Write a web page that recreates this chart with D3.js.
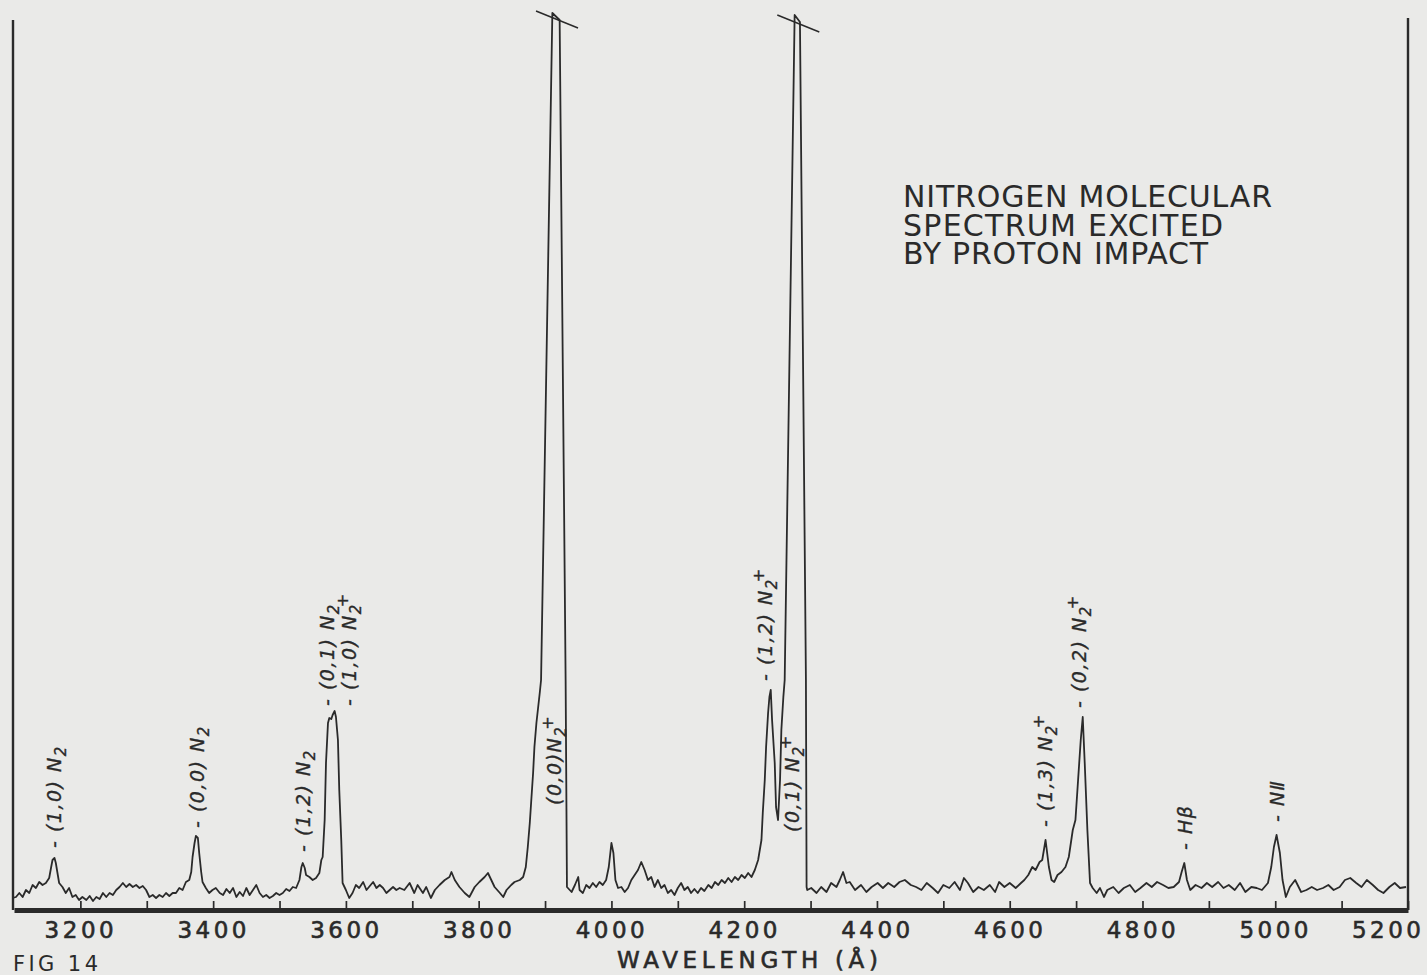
<!DOCTYPE html>
<html>
<head>
<meta charset="utf-8">
<script src="https://cdn.jsdelivr.net/npm/d3@7"></script>
<style>
  html, body { margin: 0; padding: 0; background: #eaeae8; }
  svg { display: block; }
</style>
</head>
<body>
<svg id="chart" width="1427" height="975"></svg>
<script>
// Emission spectrum: [wavelength (Å), relative intensity]
const spectrum = [
  [3098,12],[3103,13],[3108,17],[3113,13],[3118,20],[3123,17],[3128,25],[3133,22],[3138,28],[3143,25],
  [3148,27],[3153,32],[3156,43],[3158,50],[3161,52],[3163,47],[3166,35],[3168,27],[3173,23],[3178,17],
  [3183,22],[3188,13],[3193,15],[3198,10],[3203,13],[3209,10],[3214,14],[3219,9],[3224,13],[3229,11],
  [3234,17],[3239,13],[3244,17],[3249,15],[3254,20],[3259,23],[3264,27],[3269,23],[3274,26],[3279,23],
  [3284,25],[3289,22],[3294,24],[3299,20],[3304,13],[3309,15],[3314,12],[3319,15],[3324,13],[3329,17],
  [3334,14],[3339,17],[3344,17],[3349,22],[3354,20],[3359,28],[3364,30],[3367,38],[3369,53],[3372,67],
  [3374,74],[3377,72],[3379,57],[3382,38],[3384,28],[3389,22],[3394,17],[3399,20],[3404,22],[3410,17],
  [3415,15],[3420,21],[3425,17],[3430,22],[3435,13],[3440,18],[3445,14],[3450,22],[3455,15],[3460,20],
  [3465,25],[3470,17],[3475,13],[3480,15],[3485,12],[3490,14],[3495,17],[3500,15],[3505,17],[3510,21],
  [3515,19],[3520,23],[3525,22],[3530,30],[3533,43],[3535,47],[3538,42],[3540,35],[3545,33],[3550,30],
  [3555,32],[3560,37],[3563,50],[3565,53],[3568,90],[3570,147],[3573,187],[3575,192],[3578,191],[3580,195],
  [3583,199],[3585,193],[3588,170],[3590,120],[3593,70],[3595,27],[3600,20],[3605,12],[3610,17],[3615,25],
  [3620,22],[3626,28],[3631,20],[3636,24],[3641,28],[3646,22],[3651,25],[3656,22],[3661,17],[3666,20],
  [3671,23],[3676,20],[3681,22],[3688,20],[3696,27],[3703,17],[3708,25],[3716,17],[3721,23],[3728,12],
  [3734,20],[3741,25],[3749,30],[3756,33],[3759,38],[3764,30],[3771,23],[3779,17],[3786,13],[3794,23],
  [3801,28],[3809,33],[3814,37],[3819,30],[3824,23],[3832,17],[3837,13],[3842,20],[3849,25],[3854,28],
  [3862,30],[3867,33],[3871,43],[3874,63],[3877,87],[3879,107],[3882,137],[3884,163],[3887,187],[3892,217],
  [3894,230],[3911,897],[3922,890],[3931,230],[3933,23],[3940,18],[3945,25],[3950,33],[3952,20],[3957,17],
  [3962,25],[3967,22],[3972,27],[3977,23],[3982,28],[3987,25],[3992,30],[3996,43],[4000,67],[4003,57],
  [4006,30],[4010,22],[4015,23],[4020,18],[4025,22],[4030,30],[4035,35],[4040,40],[4045,48],[4050,40],
  [4055,30],[4060,33],[4065,23],[4070,30],[4075,22],[4080,25],[4085,17],[4090,20],[4095,15],[4100,22],
  [4105,27],[4110,20],[4115,23],[4120,17],[4125,21],[4130,17],[4135,22],[4140,19],[4146,25],[4151,22],
  [4156,28],[4161,25],[4166,30],[4171,27],[4176,32],[4181,28],[4186,33],[4191,30],[4196,35],[4201,32],
  [4206,37],[4211,33],[4216,40],[4221,50],[4226,70],[4228,97],[4231,130],[4233,163],[4236,197],[4238,213],
  [4240,220],[4242,190],[4246,147],[4248,103],[4251,90],[4254,130],[4256,180],[4259,213],[4261,230],[4276,895],
  [4284,888],[4293,230],[4294,23],[4295,20],[4301,22],[4309,17],[4316,23],[4324,18],[4331,27],[4339,23],
  [4344,30],[4349,38],[4354,27],[4359,28],[4367,20],[4376,25],[4384,18],[4392,23],[4401,27],[4409,22],
  [4417,27],[4426,23],[4434,28],[4442,30],[4451,25],[4459,23],[4467,20],[4475,27],[4484,22],[4492,17],
  [4500,25],[4509,22],[4517,28],[4525,20],[4531,32],[4537,27],[4545,18],[4553,23],[4561,20],[4570,25],
  [4578,18],[4584,28],[4592,23],[4600,27],[4609,22],[4617,27],[4622,30],[4628,35],[4634,43],[4639,40],
  [4645,48],[4649,50],[4654,70],[4659,43],[4663,30],[4667,28],[4672,35],[4678,38],[4684,43],[4689,53],
  [4695,80],[4699,90],[4703,130],[4707,170],[4710,193],[4713,147],[4717,80],[4721,27],[4725,22],[4731,17],
  [4736,22],[4742,13],[4747,20],[4756,23],[4764,17],[4772,22],[4781,25],[4789,18],[4797,22],[4806,27],
  [4814,23],[4822,28],[4831,25],[4839,22],[4847,23],[4855,28],[4859,38],[4863,47],[4867,30],[4872,20],
  [4880,25],[4889,22],[4897,27],[4905,23],[4914,28],[4922,22],[4930,25],[4939,20],[4947,27],[4955,18],
  [4964,23],[4972,22],[4980,20],[4989,27],[4994,43],[4998,63],[5002,75],[5007,57],[5011,30],[5016,13],
  [5022,23],[5030,30],[5039,18],[5047,20],[5055,23],[5063,20],[5072,22],[5080,25],[5088,20],[5097,23],
  [5105,30],[5113,32],[5122,27],[5130,23],[5138,30],[5147,25],[5155,20],[5163,17],[5172,23],[5180,27],
  [5188,22],[5197,23]
];

// Axis ticks every 100 Å, numbered every 200 Å
const tickValues = d3.range(3200, 5201, 100);
const tickLabels = [3200, 3400, 3600, 3800, 4000, 4200, 4400, 4600, 4800, 5000, 5200];

// Band / line identifications: label text, wavelength and intensity where the label begins
const lineNames   = ["- (1,0) N", "- (0,0) N", "- (1,2) N", "- (0,1) N", "- (1,0) N", "(0,0)N",
                     "- (1,2) N", "(0,1) N", "- (1,3) N", "- (0,2) N", "- Hβ", "- NⅡ"];
const lineSubs    = ["2", "2", "2", "2", "2", "2", "2", "2", "2", "2", "", ""];
const lineIons    = ["", "", "", "", "+", "+", "+", "+", "+", "+", "", ""];
const labelWl     = [3161, 3376, 3535, 3572, 3605, 3914, 4231, 4273, 4653, 4704, 4864, 5003];
const labelLevel  = [62, 82, 58, 204, 204, 105, 229, 78, 83, 202, 60, 88];

// Off-scale bands, cut at the top of the chart
const brokenPeakWl    = [3916.5, 4280];
const brokenPeakLevel = [891, 887];

const titleLines = ["NITROGEN MOLECULAR", "SPECTRUM EXCITED", "BY PROTON IMPACT"];
const axisTitle = "WAVELENGTH (Å)";
const figureLabel = "FIG 14";

const ink = "#2a2a2a";
const svg = d3.select("#chart");

const x = d3.scaleLinear().domain([3100, 5200]).range([14, 1408]);
const y = d3.scaleLinear().domain([0, 900]).range([910, 10]);

// Side frame lines
svg.append("line").attr("x1", x(3100) - 1).attr("x2", x(3100) - 1)
  .attr("y1", 20).attr("y2", y(0))
  .attr("stroke", ink).attr("stroke-width", 2.4);
svg.append("line").attr("x1", x(5200)).attr("x2", x(5200))
  .attr("y1", 18).attr("y2", y(0))
  .attr("stroke", ink).attr("stroke-width", 2.4);

// Wavelength axis
const axis = d3.axisBottom(x)
  .tickValues(tickValues)
  .tickSizeInner(-9)
  .tickSizeOuter(0)
  .tickPadding(12)
  .tickFormat(d => tickLabels.includes(d) ? String(d) : "");

const gx = svg.append("g").attr("transform", `translate(0,${y(0)})`).call(axis);
gx.select(".domain").attr("stroke", ink).attr("stroke-width", 5);
gx.selectAll(".tick line").attr("stroke", ink).attr("stroke-width", 1.7);
gx.selectAll(".tick text")
  .attr("fill", ink)
  .attr("stroke", ink).attr("stroke-width", 0.6)
  .style("font-family", "'DejaVu Sans', sans-serif")
  .style("font-size", "23px")
  .style("letter-spacing", "3.5px");
gx.selectAll(".tick text").filter(d => d === 5200)
  .attr("text-anchor", "end").attr("x", 16);

// Spectrum trace
const trace = d3.line().x(d => x(d[0])).y(d => y(d[1]));
svg.append("path")
  .datum(spectrum)
  .attr("d", trace)
  .attr("fill", "none")
  .attr("stroke", ink)
  .attr("stroke-width", 1.8)
  .attr("stroke-linejoin", "round");

// Break marks across the off-scale bands
brokenPeakWl.forEach((wl, i) => {
  const cx = x(wl), cy = y(brokenPeakLevel[i]);
  svg.append("line")
    .attr("x1", cx - 20).attr("y1", cy - 8)
    .attr("x2", cx + 22).attr("y2", cy + 9)
    .attr("stroke", ink).attr("stroke-width", 1.5);
});

// Band identifications, written vertically
lineNames.forEach((name, i) => {
  const t = svg.append("text")
    .attr("transform", `translate(${x(labelWl[i])},${y(labelLevel[i])}) rotate(-90)`)
    .attr("dy", "0.36em")
    .attr("fill", ink)
    .attr("stroke", ink).attr("stroke-width", 0.35)
    .style("font-family", "'DejaVu Sans', sans-serif")
    .style("font-style", "italic")
    .style("font-size", "19px")
    .style("letter-spacing", "1.5px");
  t.append("tspan").text(name);
  if (lineSubs[i]) {
    t.append("tspan").attr("dy", 5).style("font-size", "15px").text(lineSubs[i]);
  }
  if (lineIons[i]) {
    t.append("tspan").attr("dx", -4).attr("dy", -13).style("font-size", "16px").text(lineIons[i]);
  }
});

// Title block
svg.append("g").selectAll("text")
  .data(titleLines)
  .join("text")
  .attr("x", 903)
  .attr("y", (d, i) => 207 + i * 28.5)
  .attr("fill", ink)
  .attr("textLength", (d, i) => [369, 320, 305][i])
  .attr("lengthAdjust", "spacing")
  .style("font-family", "'DejaVu Sans', sans-serif")
  .style("font-size", "30px")
  .text(d => d);

// Axis title
svg.append("text")
  .attr("x", 617).attr("y", 968)
  .attr("textLength", 261).attr("lengthAdjust", "spacing")
  .attr("fill", ink)
  .attr("stroke", ink).attr("stroke-width", 0.6)
  .style("font-family", "'DejaVu Sans', sans-serif")
  .style("font-size", "23px")
  .text(axisTitle);

// Figure number
svg.append("text")
  .attr("x", 13).attr("y", 971)
  .attr("textLength", 85).attr("lengthAdjust", "spacing")
  .attr("fill", ink)
  .style("font-family", "'DejaVu Sans', sans-serif")
  .style("font-size", "21px")
  .text(figureLabel);
</script>
</body>
</html>
